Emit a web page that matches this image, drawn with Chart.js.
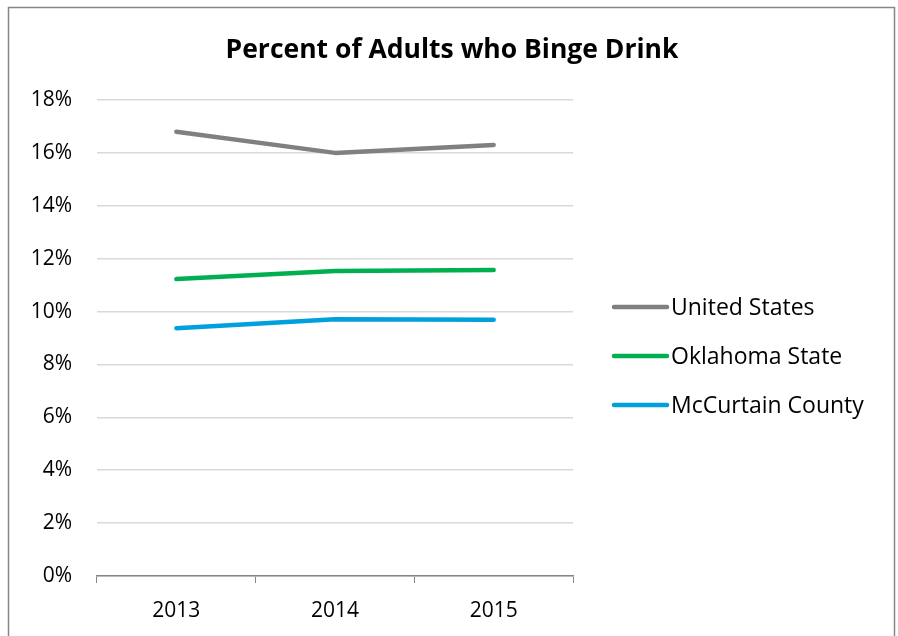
<!DOCTYPE html>
<html>
<head>
<meta charset="utf-8">
<script src="https://cdn.jsdelivr.net/npm/chart.js@4.4.0/dist/chart.umd.min.js"></script>
<style>
  html, body { margin: 0; padding: 0; background: #fff; }
  #wrap { width: 898px; height: 636px; }
</style>
</head>
<body>
<div id="wrap"><canvas id="bingeChart"></canvas></div>
<script>
const chartTitle = 'Percent of Adults who Binge Drink';
const years = ['2013', '2014', '2015'];
const seriesNames = ['United States', 'Oklahoma State', 'McCurtain County'];
const unitedStates = [16.8, 16.0, 16.3];
const oklahomaState = [11.23, 11.53, 11.57];
const mccurtainCounty = [9.37, 9.71, 9.69];
const seriesColors = ['#808080', '#00b050', '#00a0dc'];

const fontName = '"Open Sans", Lato, sans-serif';

// frame round the whole chart, title over the full width, legend on the right
const framePlugin = {
    id: 'frame',
    beforeDraw(chart) {
        const ctx = chart.ctx;
        ctx.save();
        ctx.fillStyle = '#fff';
        ctx.fillRect(0, 0, chart.width, chart.height);
        ctx.strokeStyle = '#868686';
        ctx.lineWidth = 1.5;
        ctx.strokeRect(8.5, 7.5, 886, 660);
        ctx.restore();
    },
    afterDraw(chart) {
        const ctx = chart.ctx;
        ctx.save();
        ctx.fillStyle = '#000';
        ctx.textAlign = 'center';
        ctx.textBaseline = 'middle';
        ctx.font = 'bold 26.5px ' + fontName;
        ctx.fillText(chartTitle, 452, 50);

        ctx.textAlign = 'left';
        ctx.font = '23px ' + fontName;
        chart.data.datasets.forEach((ds, i) => {
            const y = 307 + i * 49;
            ctx.strokeStyle = ds.borderColor;
            ctx.lineWidth = 4.5;
            ctx.lineCap = 'round';
            ctx.beginPath();
            ctx.moveTo(614, y);
            ctx.lineTo(667, y);
            ctx.stroke();
            ctx.fillText(ds.label, 671, y + 1);
        });
        ctx.restore();
    }
};

const dataSets = [unitedStates, oklahomaState, mccurtainCounty].map((vals, i) => ({
    label: seriesNames[i],
    data: vals,
    borderColor: seriesColors[i],
    backgroundColor: seriesColors[i],
    borderWidth: 4.5,
    borderCapStyle: 'round',
    borderJoinStyle: 'round',
    pointRadius: 0,
    tension: 0
}));

const ctx = document.getElementById('bingeChart').getContext('2d');
new Chart(ctx, {
    type: 'line',
    data: {
        labels: years,
        datasets: dataSets
    },
    plugins: [framePlugin],
    options: {
        responsive: true,
        maintainAspectRatio: false,
        animation: false,
        layout: {
            padding: { left: 0, right: 325, top: 100, bottom: 0 }
        },
        scales: {
            x: {
                offset: true,
                grid: {
                    offset: true,
                    drawOnChartArea: false,
                    drawTicks: true,
                    tickLength: 7,
                    color: '#868686'
                },
                border: { display: true, color: '#868686', width: 1.5 },
                ticks: {
                    color: '#000',
                    padding: 15,
                    font: { family: fontName, size: 21 }
                },
                afterFit(scale) { scale.height = 60; }
            },
            y: {
                min: 0,
                max: 18,
                grid: {
                    drawTicks: false,
                    color: '#d9d9d9',
                    lineWidth: 1.5
                },
                border: { display: false },
                ticks: {
                    stepSize: 2,
                    color: '#000',
                    padding: 25,
                    font: { family: fontName, size: 21 },
                    callback: v => v + '%'
                },
                afterFit(scale) { scale.width = 97; }
            }
        },
        plugins: {
            legend: { display: false },
            tooltip: { enabled: false },
            title: { display: false }
        }
    }
});
</script>
</body>
</html>
